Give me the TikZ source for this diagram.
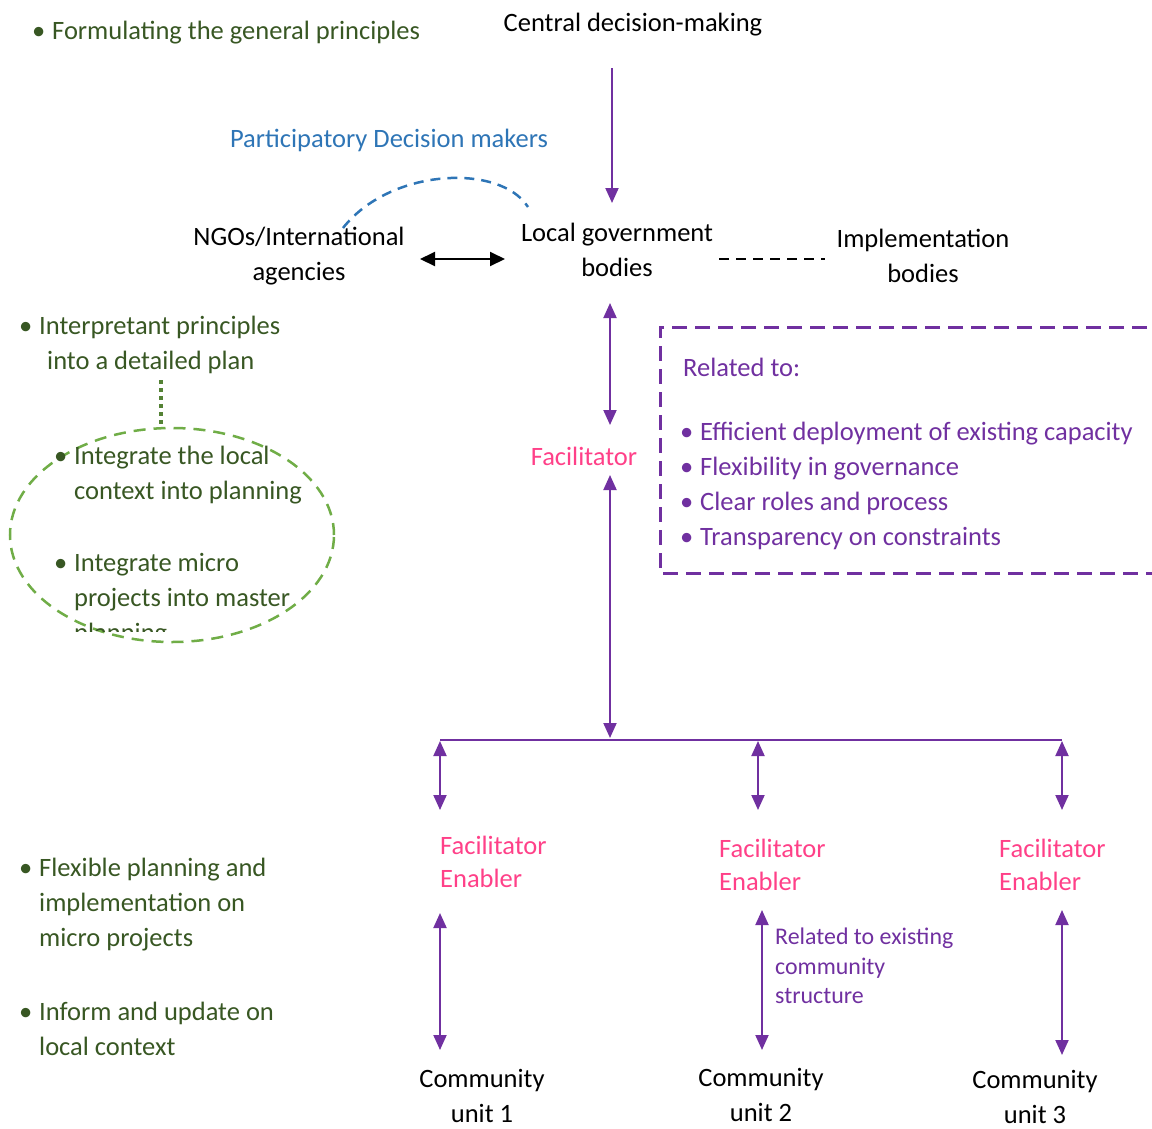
\documentclass[tikz,border=0pt]{standalone}
\usepackage{fontspec}
\setmainfont{Carlito}
\usetikzlibrary{arrows.meta,calc,shapes.geometric}
\definecolor{LeafDark}  {HTML}{385723}
\definecolor{LeafGreen} {HTML}{70AD47}
\definecolor{MossGreen} {HTML}{548235}
\definecolor{OfficeBlue}{HTML}{2E75B6}
\definecolor{DeepViolet}{HTML}{7030A0}
\definecolor{HotPink}   {HTML}{FF4088}
\newcommand{\bul}[1][20pt]{\makebox[#1][l]{•}}
\tikzset{
  lbl/.style={inner sep=0pt,align=center,font=\fontsize{26.5}{35}\selectfont},
  gtxt/.style={lbl,align=left,anchor=west,text=LeafDark},
  ptxt/.style={lbl,align=left,anchor=west,text=DeepViolet},
  ftxt/.style={lbl,align=left,anchor=west,text=HotPink,
               font=\fontsize{26.5}{33}\selectfont},
  arr/.style={-{Triangle[length=15pt,width=13pt]},line width=2pt,color=DeepViolet},
  darr/.style={{Triangle[length=15pt,width=13pt]}-{Triangle[length=15pt,width=13pt]},
               line width=2pt,color=DeepViolet},
  karr/.style={{Triangle[length=15pt,width=14pt]}-{Triangle[length=15pt,width=14pt]},
               line width=2pt,color=black},
}

\begin{document}
\begin{tikzpicture}[x=1pt,y=-1pt]
  \useasboundingbox (0,0) rectangle (1152,1128);

  % top level
  \node[lbl] (central) at (633,25) {Central decision-making};
  \node[lbl,text=OfficeBlue] (pdm) at (389,140) {Participatory Decision makers};
  \node[lbl] (ngo) at (299,256) {NGOs/International\\agencies};
  \node[lbl] (lgb) at (617,250) {Local government\\bodies};
  \node[lbl] (impl) at (923,256) {Implementation\\bodies};
  \node[lbl,text=HotPink] (fac) at (584,456) {Facilitator};

  \coordinate (arcL) at (343,228);
  \coordinate (arcR) at (528,207);
  \draw[OfficeBlue,line width=2.5pt,dash pattern=on 10pt off 7pt]
    (arcL) .. controls (390,168) and (500,163) .. (arcR);

  \draw[arr] ($(central.center)+(-21,43)$) -- ($(lgb.center)+(-5,-47)$);
  \draw[karr] ($(ngo.center)+(121,3)$) -- ($(lgb.center)+(-112,9)$);
  \draw[line width=2pt,dash pattern=on 10pt off 7pt]
    ($(lgb.center)+(102,9)$) -- ($(impl.center)+(-98,3)$);

  % facilitator chain
  \coordinate (hub) at (610,740);
  \draw[darr] ($(lgb.center -| hub)+(0,53)$) -- ($(fac.center -| hub)+(0,-31)$);
  \draw[darr] ($(fac.center -| hub)+(0,19)$) -- ($(hub)+(0,-2)$);

  % related box
  \draw[DeepViolet,line width=3pt,dash pattern=on 15pt off 8pt]
    (1170,327) -- (660,327) -- (660,573) -- (1170,573);
  \node[ptxt] (rel) at (683,367) {Related to:};
  \node[ptxt] (rellist) at (680,486) {\bul Efficient deployment of existing capacity\\
    \bul Flexibility in governance\\ \bul Clear roles and process\\
    \bul Transparency on constraints};

  % branches
  \coordinate (b1) at (440,740);
  \coordinate (b2) at (758,740);
  \coordinate (b3) at (1062,740);
  \draw[DeepViolet,line width=1.5pt] (b1) -- (b3);

  \node[ftxt] (fe1) at (440,862) {Facilitator\\Enabler};
  \node[ftxt] (fe2) at (719,865) {Facilitator\\Enabler};
  \node[ftxt] (fe3) at (999,865) {Facilitator\\Enabler};

  \node[lbl] (cu1) at (482,1096) {Community\\unit 1};
  \node[lbl] (cu2) at (761,1095) {Community\\unit 2};
  \node[lbl] (cu3) at (1035,1097) {Community\\unit 3};

  \draw[darr] ($(b1)+(0,1)$) -- ($(b1 |- fe1.west)+(0,-52)$);
  \draw[darr] ($(b2)+(0,1)$) -- ($(b2 |- fe2.west)+(0,-55)$);
  \draw[darr] ($(b3)+(0,1)$) -- ($(b3 |- fe3.west)+(0,-55)$);

  \draw[darr] ($(b1 |- fe1.west)+(0,51)$) -- ($(b1 |- cu1.center)+(0,-46)$);
  \draw[darr] ($(b2 |- fe2.west)+(4,45)$) -- ($(b2 |- cu2.center)+(4,-45)$);
  \draw[darr] ($(b3 |- fe3.west)+(0,45)$) -- ($(b3 |- cu3.center)+(0,-42)$);

  \node[ptxt,font=\fontsize{23.9}{29.5}\selectfont] (exist) at (775,966)
    {Related to existing\\community\\structure};

  % left column
  \node[gtxt] (formul) at (32,33) {\bul Formulating the general principles};
  \node[gtxt] (interp) at (19,345) {\bul Interpretant principles\\
    \hspace*{28pt}into a detailed plan};
  \node[gtxt] (flex) at (19,905) {\bul Flexible planning and\\
    \hspace*{20pt}implementation on\\ \hspace*{20pt}micro projects};
  \node[gtxt] (inform) at (19,1029) {\bul Inform and update on\\
    \hspace*{20pt}local context};

  \node[ellipse,draw=LeafGreen,line width=2.5pt,dash pattern=on 12pt off 8pt,
        minimum width=324pt,minimum height=214pt] (ctx) at (172,535) {};
  \draw[MossGreen,line width=3.5pt,dash pattern=on 4pt off 4pt]
    ($(interp.south west)+(142,6)$) -- ($(ctx.north)+(-11,-3)$);
  \node[gtxt] (local) at (54,475) {\bul Integrate the local\\
    \hspace*{20pt}context into planning};
  \begin{scope}
    \clip (0,0) rectangle (400,631);
    \node[gtxt] (micro) at (54,600) {\bul Integrate micro\\
      \hspace*{20pt}projects into master\\ \hspace*{20pt}planning};
  \end{scope}
\end{tikzpicture}
\end{document}
